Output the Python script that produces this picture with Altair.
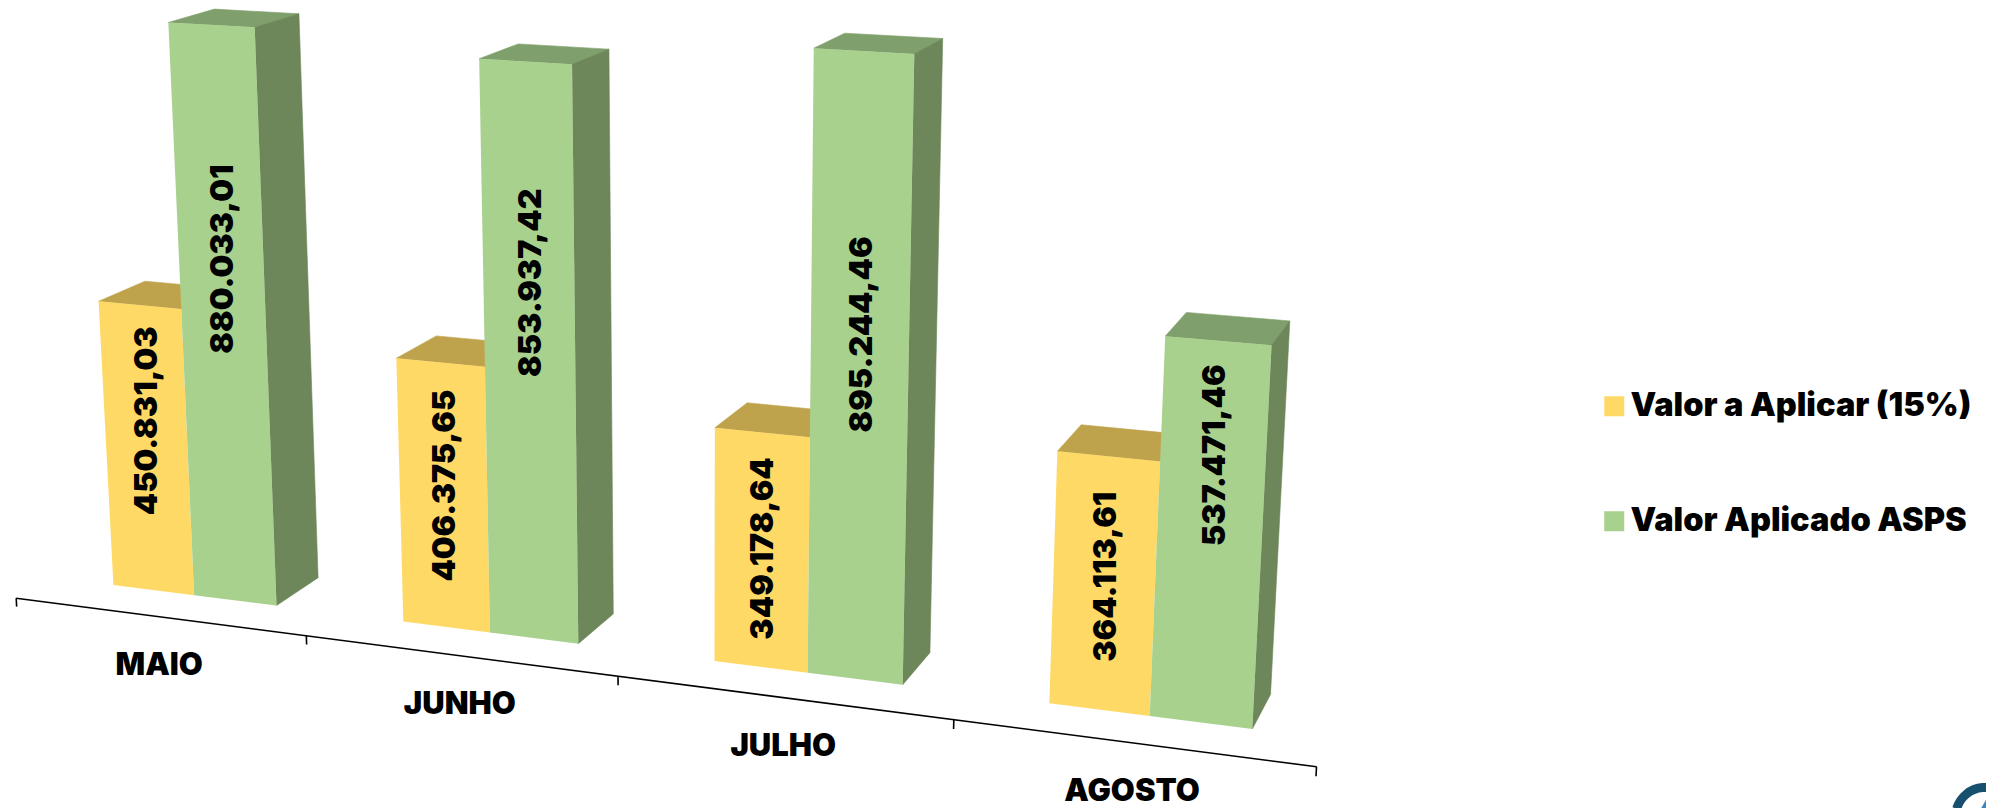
import altair as alt
import numpy as np

# ---- values ----
categories = ["MAIO", "JUNHO", "JULHO", "AGOSTO"]
series_names = ["Valor a Aplicar (15%)", "Valor Aplicado ASPS"]
valor_aplicar = [450831.03, 406375.65, 349178.64, 364113.61]
valor_aspas = [880033.01, 853937.42, 895244.46, 537471.46]
rotulos_aplicar = ["450.831,03", "406.375,65", "349.178,64", "364.113,61"]
rotulos_aspas = ["880.033,01", "853.937,42", "895.244,46", "537.471,46"]
# where along its bar each label sits (share of bar height)
pos_aplicar = [0.60, 0.54, 0.51, 0.53]
pos_aspas = [0.605, 0.628, 0.562, 0.707]

# ---- 3D camera of the chart: (category, value in millions, depth) -> page ----
CAMERA = np.array([
    [0.274085, -0.038013, 0.048646, 0.052746],
    [0.015301, -0.640933, -0.012207, 0.577283],
    [-0.033911, -0.054411, 0.02579, 1.0],
])
GROUP_LEFT, BAR_WIDTH, AXIS_DEPTH = 0.2183, 0.2856, 0.7583
TICK_DROP = 0.0135
FONT = "Inter"


def project(x, value, z):
    u, v, w = CAMERA @ np.array([x, value / 1e6, z, 1.0])
    return [float(1000 * u / w), float(1000 * v / w)]


def quad(a, b, c, d, **props):
    ring = [a, b, c, d, a]
    return {"type": "Feature", "properties": props,
            "geometry": {"type": "Polygon", "coordinates": [ring]}}


def line(a, b, kind):
    return {"type": "Feature", "properties": {"k": kind},
            "geometry": {"type": "LineString", "coordinates": [a, b]}}


YELLOW, GREEN = "#FFD966", "#A9D18E"
YELLOW_TOP, GREEN_TOP, GREEN_SIDE = "#BFA34C", "#7F9F6C", "#6D865A"

fronts, labels = [], []
shaded = {YELLOW_TOP: [], GREEN_TOP: [], GREEN_SIDE: []}
for s, (values, texts, shares, name) in enumerate([
    (valor_aplicar, rotulos_aplicar, pos_aplicar, series_names[0]),
    (valor_aspas, rotulos_aspas, pos_aspas, series_names[1]),
]):
    for i, v in enumerate(values):
        x0 = i + GROUP_LEFT + s * BAR_WIDTH
        x1 = x0 + BAR_WIDTH
        fronts.append(quad(project(x0, v, 0), project(x1, v, 0),
                           project(x1, 0, 0), project(x0, 0, 0), serie=name))
        shaded[YELLOW_TOP if s == 0 else GREEN_TOP].append(
            quad(project(x0, v, 1), project(x1, v, 1),
                 project(x1, v, 0), project(x0, v, 0)))
        if s == 1:
            shaded[GREEN_SIDE].append(
                quad(project(x1, v, 0), project(x1, v, 1),
                     project(x1, 0, 1), project(x1, 0, 0)))
        lon, lat = project((x0 + x1) / 2, v * shares[i], 0)
        labels.append({"lon": lon, "lat": lat, "t": texts[i]})

axis_shapes = [line(project(0, 0, -AXIS_DEPTH),
                    project(len(categories), 0, -AXIS_DEPTH), "eixo")]
for k in range(len(categories) + 1):
    axis_shapes.append(line(project(k, 0, -AXIS_DEPTH),
                            project(k, -TICK_DROP * 1e6, -AXIS_DEPTH), "tick"))
cat_labels = []
for i, c in enumerate(categories):
    lon, lat = project(i + 0.5, 0, -AXIS_DEPTH)
    cat_labels.append({"lon": lon, "lat": lat, "t": c})

PROJ = dict(type="identity", scale=1, translate=[-8, -8])

shaded_layers = [
    alt.Chart(alt.Data(values=feats)).mark_geoshape(
        fill=col, stroke=col, strokeWidth=0.6
    ).project(**PROJ)
    for col, feats in shaded.items()
]

front_layer = alt.Chart(alt.Data(values=fronts)).mark_geoshape(strokeWidth=0).encode(
    fill=alt.Fill(
        "properties.serie:N",
        scale=alt.Scale(domain=series_names, range=[YELLOW, GREEN]),
        legend=alt.Legend(
            title=None, orient="none", legendX=1590, legendY=382,
            symbolType="square", symbolSize=400, symbolStrokeWidth=0,
            labelFont=FONT, labelFontWeight=900, labelFontSize=32.5,
            labelColor="#000000", labelOffset=0, rowPadding=82, padding=0,
            labelLimit=500,
        ),
    ),
).project(**PROJ)

axis_layer = alt.Chart(alt.Data(values=axis_shapes)).mark_geoshape(
    filled=False, stroke="#000000", strokeWidth=1.6
).project(**PROJ)

value_text = alt.Chart(alt.Data(values=labels)).mark_text(
    font=FONT, fontWeight=900, fontSize=32, angle=270, dy=2,
    align="center", baseline="middle", color="#000000",
).encode(longitude="lon:Q", latitude="lat:Q", text="t:N").project(**PROJ)

cat_text = alt.Chart(alt.Data(values=cat_labels)).mark_text(
    font=FONT, fontWeight=900, fontSize=31,
    align="center", baseline="middle", dx=0.5, dy=49, color="#000000",
).encode(longitude="lon:Q", latitude="lat:Q", text="t:N").project(**PROJ)

logo_ring = alt.Chart(alt.Data(values=[{"a": 1}])).mark_arc(
    radius=34, radius2=25, theta=5.0, theta2=7.4, color="#17506F"
).encode(x=alt.value(1977), y=alt.value(809))
logo_tip = alt.Chart(alt.Data(values=[{"a": 1}])).mark_point(
    shape="triangle-up", filled=True, size=420, color="#3A86C0", opacity=1
).encode(x=alt.value(1979), y=alt.value(799))

chart = alt.layer(
    *shaded_layers, front_layer, axis_layer, value_text, cat_text, logo_ring, logo_tip
).properties(
    width=1978, height=800, padding=0,
    autosize=alt.AutoSizeParams(type="none"),
    background="#FFFFFF",
).configure_view(stroke=None)

chart.save("out.html", embed_options={"renderer": "svg", "actions": False})
